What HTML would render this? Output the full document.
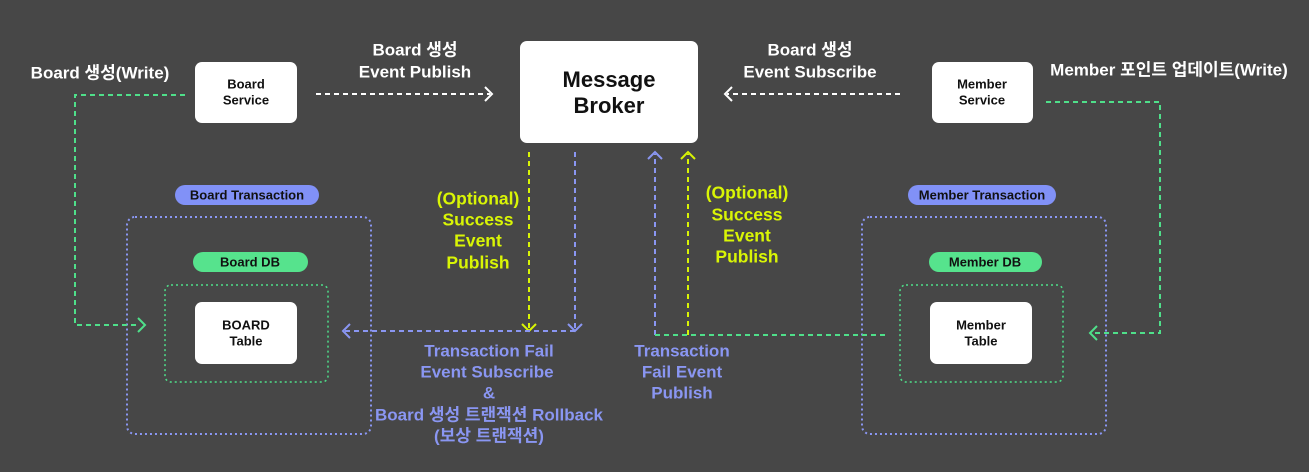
<!DOCTYPE html>
<html><head><meta charset="utf-8"><style>
body{margin:0;background:#474747;}
svg{display:block}
text{font-family:"Liberation Sans","Noto Sans CJK KR",sans-serif;font-weight:bold;text-anchor:middle;dominant-baseline:middle}
</style></head><body>
<svg width="1309" height="472" viewBox="0 0 1309 472">
<rect width="1309" height="472" fill="#474747"/>
<g fill="none" stroke-width="2">
<rect x="127" y="217" width="244" height="217" rx="8" stroke="#8a96f2" stroke-dasharray="2 3"/>
<rect x="165" y="285" width="163" height="97" rx="6" stroke="#4fe08a" stroke-dasharray="2 3" stroke-width="1.5"/>
<rect x="862" y="217" width="244" height="217" rx="8" stroke="#8a96f2" stroke-dasharray="2 3"/>
<rect x="900" y="285" width="163" height="97" rx="6" stroke="#4fe08a" stroke-dasharray="2 3" stroke-width="1.5"/>
<path d="M185 95 H75 V325 H140" stroke="#4fe08a" stroke-dasharray="5 4"/>
<path d="M138 318 L145 325 L138 332" stroke="#4fe08a"/>
<path d="M316 94 H490" stroke="#fff" stroke-dasharray="5 4"/>
<path d="M485 87 L492 94 L485 101" stroke="#fff"/>
<path d="M900 94 H727" stroke="#fff" stroke-dasharray="5 4"/>
<path d="M732 87 L725 94 L732 101" stroke="#fff"/>
<path d="M1046 102 H1160 V333 H1092" stroke="#4fe08a" stroke-dasharray="5 4"/>
<path d="M1097 326 L1090 333 L1097 340" stroke="#4fe08a"/>
<path d="M529 152 V330" stroke="#d9f505" stroke-dasharray="5 4"/>
<path d="M522 324 L529 331 L536 324" stroke="#d9f505"/>
<path d="M575 152 V330" stroke="#8a96f2" stroke-dasharray="5 4"/>
<path d="M568 324 L575 331 L582 324" stroke="#8a96f2"/>
<path d="M575 331 H345" stroke="#8a96f2" stroke-dasharray="5 4"/>
<path d="M350 324 L343 331 L350 338" stroke="#8a96f2"/>
<path d="M655 335 V154" stroke="#8a96f2" stroke-dasharray="5 4"/>
<path d="M648 159 L655 152 L662 159" stroke="#8a96f2"/>
<path d="M688 335 V154" stroke="#d9f505" stroke-dasharray="5 4"/>
<path d="M681 159 L688 152 L695 159" stroke="#d9f505"/>
<path d="M655 335 H888" stroke="#4fe08a" stroke-dasharray="5 4"/>
</g>
<g fill="#fff">
<rect x="195" y="62" width="102" height="61" rx="7"/>
<rect x="520" y="41" width="178" height="102" rx="7"/>
<rect x="932" y="62" width="101" height="61" rx="7"/>
<rect x="195" y="302" width="102" height="62" rx="7"/>
<rect x="930" y="302" width="102" height="62" rx="7"/>
</g>
<rect x="175" y="185" width="144" height="20" rx="10" fill="#8191f7"/>
<rect x="908" y="185" width="148" height="20" rx="10" fill="#8191f7"/>
<rect x="193" y="252" width="115" height="20" rx="10" fill="#56e38d"/>
<rect x="929" y="252" width="113" height="20" rx="10" fill="#56e38d"/>
<g fill="#111" font-size="13">
<text x="246" y="85">Board</text><text x="246" y="101">Service</text>
<text x="982" y="85">Member</text><text x="982" y="101">Service</text>
<text x="246" y="326">BOARD</text><text x="246" y="342">Table</text>
<text x="981" y="326">Member</text><text x="981" y="342">Table</text>
<text x="247" y="196">Board Transaction</text>
<text x="982" y="196">Member Transaction</text>
<text x="250" y="263">Board DB</text>
<text x="985" y="263">Member DB</text>
<text x="609" y="81" font-size="22">Message</text><text x="609" y="107" font-size="22">Broker</text>
</g>
<g fill="#fff" font-size="17">
<text x="100" y="74">Board 생성(Write)</text>
<text x="415" y="51">Board 생성</text><text x="415" y="73">Event Publish</text>
<text x="810" y="51">Board 생성</text><text x="810" y="73">Event Subscribe</text>
<text x="1169" y="71">Member 포인트 업데이트(Write)</text>
</g>
<g fill="#d9f505" font-size="17.5">
<text x="478" y="200">(Optional)</text><text x="478" y="221">Success</text><text x="478" y="242">Event</text><text x="478" y="264">Publish</text>
<text x="747" y="194">(Optional)</text><text x="747" y="216">Success</text><text x="747" y="237">Event</text><text x="747" y="258">Publish</text>
</g>
<g fill="#8a96f2" font-size="17">
<text x="489" y="352">Transaction Fail</text><text x="487" y="373">Event Subscribe</text><text x="489" y="394">&amp;</text><text x="489" y="416">Board 생성 트랜잭션 Rollback</text><text x="489" y="437">(보상 트랜잭션)</text>
<text x="682" y="352">Transaction</text><text x="682" y="373">Fail Event</text><text x="682" y="394">Publish</text>
</g>
</svg>
</body></html>
